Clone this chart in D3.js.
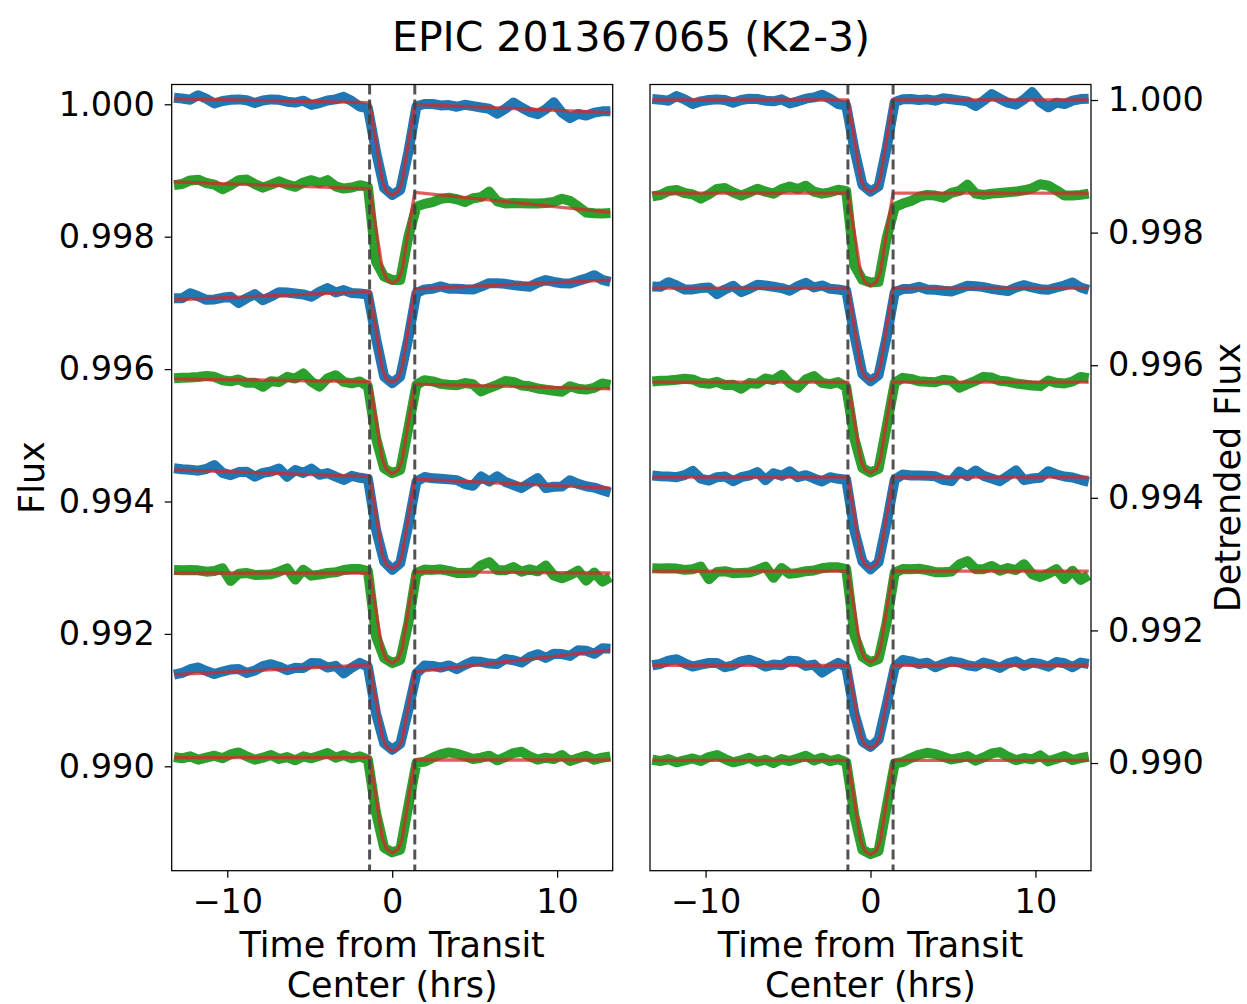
<!DOCTYPE html>
<html><head><meta charset="utf-8">
<script src="https://cdn.jsdelivr.net/npm/d3@7"></script>
<style>
body{margin:0;background:#fff}
svg{display:block}
text{font-family:"DejaVu Sans",sans-serif;fill:#000}
</style>
</head><body><svg id="chart" width="1247" height="1004"></svg>
<script>
// ---- data (flux given in ppm relative to 1.0) ----
const timeHrs = [-13.23,-12.74,-12.25,-11.76,-11.27,-10.78,-10.29,-9.80,-9.31,-8.82,-8.33,-7.84,-7.35,-6.86,-6.37,-5.88,-5.39,-4.90,-4.41,-3.92,-3.43,-2.94,-2.45,-1.96,-1.47,-0.98,-0.49,0.00,0.49,0.98,1.47,1.96,2.45,2.94,3.43,3.92,4.41,4.90,5.39,5.88,6.37,6.86,7.35,7.84,8.33,8.82,9.31,9.80,10.29,10.78,11.27,11.76,12.25,12.74,13.23];

const fluxCurve1 = [99,87,69,137,84,12,49,67,74,62,19,57,74,67,39,27,54,-9,19,57,74,112,49,-34,-60,-720,-1265,-1370,-1295,-720,-30,4,4,-17,-12,-37,-7,-27,-48,-68,-143,-68,26,-49,-114,-149,-75,30,-125,-210,-145,-171,-126,-106,-106];
const fluxCurve2 = [-1221,-1205,-1150,-1139,-1189,-1213,-1282,-1222,-1146,-1136,-1205,-1259,-1214,-1163,-1213,-1247,-1181,-1146,-1190,-1145,-1239,-1273,-1258,-1222,-1250,-2377,-2603,-2653,-2653,-2000,-1546,-1504,-1477,-1429,-1412,-1434,-1477,-1419,-1402,-1319,-1467,-1499,-1492,-1494,-1497,-1499,-1492,-1474,-1427,-1459,-1542,-1634,-1647,-1649,-1642];
const fluxCurve3 = [-2929,-2929,-2854,-2899,-2954,-2948,-2923,-2908,-3003,-2928,-2868,-2958,-2903,-2838,-2843,-2857,-2872,-2907,-2832,-2777,-2842,-2807,-2852,-2857,-2872,-3533,-4113,-4213,-4113,-3533,-2850,-2797,-2787,-2751,-2786,-2785,-2795,-2799,-2754,-2703,-2703,-2712,-2732,-2746,-2756,-2695,-2655,-2684,-2704,-2708,-2668,-2632,-2582,-2651,-2681];
const fluxCurve4 = [-4138,-4130,-4126,-4118,-4105,-4116,-4168,-4185,-4157,-4208,-4205,-4267,-4183,-4195,-4117,-4143,-4065,-4192,-4264,-4140,-4092,-4194,-4215,-4187,-4264,-5043,-5496,-5572,-5522,-4892,-4239,-4167,-4185,-4223,-4236,-4244,-4211,-4229,-4337,-4285,-4238,-4181,-4194,-4247,-4260,-4293,-4310,-4328,-4341,-4259,-4297,-4310,-4283,-4216,-4239];
const fluxCurve5 = [-5498,-5512,-5521,-5535,-5509,-5449,-5568,-5602,-5556,-5550,-5624,-5568,-5547,-5501,-5625,-5525,-5569,-5503,-5597,-5571,-5625,-5674,-5613,-5642,-5661,-6428,-6907,-7032,-6931,-6353,-5699,-5630,-5650,-5656,-5666,-5677,-5737,-5763,-5623,-5699,-5619,-5705,-5750,-5796,-5721,-5647,-5797,-5778,-5773,-5679,-5734,-5770,-5790,-5831,-5866];
const fluxCurve6 = [-7035,-7040,-7035,-7040,-7060,-7050,-7010,-7200,-7090,-7080,-7110,-7105,-7100,-7060,-7010,-7180,-7030,-7120,-7105,-7080,-7070,-7035,-7020,-7020,-7050,-8039,-8365,-8441,-8391,-7837,-7082,-7027,-7033,-7025,-7047,-7079,-7080,-7072,-6964,-6915,-7037,-7039,-6990,-7062,-7024,-7055,-6967,-7119,-7161,-7112,-7044,-7196,-7072,-7209,-7141];
const fluxCurve7 = [-8616,-8590,-8534,-8507,-8561,-8605,-8569,-8538,-8531,-8590,-8554,-8488,-8457,-8495,-8549,-8513,-8517,-8441,-8445,-8508,-8482,-8596,-8510,-8438,-8497,-9200,-9650,-9750,-9660,-9150,-8600,-8476,-8483,-8509,-8476,-8532,-8468,-8415,-8421,-8448,-8454,-8380,-8397,-8433,-8350,-8306,-8362,-8299,-8305,-8332,-8248,-8254,-8301,-8217,-8224];
const fluxCurve8 = [-9860,-9880,-9850,-9900,-9870,-9840,-9880,-9820,-9790,-9850,-9900,-9870,-9830,-9890,-9860,-9910,-9850,-9880,-9840,-9800,-9870,-9830,-9880,-9850,-9900,-10700,-11230,-11300,-11260,-10600,-9950,-9930,-9870,-9820,-9790,-9810,-9850,-9890,-9870,-9840,-9910,-9860,-9800,-9780,-9850,-9900,-9870,-9890,-9830,-9920,-9880,-9840,-9900,-9870,-9850];

const curveColors = ["#1f77b4","#2ca02c","#1f77b4","#2ca02c","#1f77b4","#2ca02c","#1f77b4","#2ca02c"];

// fitted model (ppm): linear baseline before / after transit, and transit depth
const trendPreStart  = [84,-1171,-2954,-4148,-5523,-7080,-8616,-9870];
const trendPreEnd    = [24,-1278,-2830,-4189,-5623,-7080,-8467,-9870];
const trendPostStart = [0,-1330,-2789,-4228,-5663,-7060,-8573,-9905];
const trendPostEnd   = [-126,-1634,-2655,-4298,-5797,-7080,-8244,-9905];
const transitDepth   = [1385,1400,1390,1370,1370,1370,1250,1420];
const detrendedLevel = [0,-1403,-2837,-4255,-5689,-7107,-8526,-9960];
const transitShapeTimes = [-1.0,-0.6,-0.35,0,0.35,0.6,1.0];
const transitShapeFrac  = [0.40,0.85,0.96,1,0.96,0.85,0.40];
const contactTimes = [-1.37,1.37];

const xTicks = [-10,0,10];
const yTicks = [0.990,0.992,0.994,0.996,0.998,1.000];
const titleText = "EPIC 201367065 (K2-3)";

// ---- drawing ----
const fluxCurves = [fluxCurve1,fluxCurve2,fluxCurve3,fluxCurve4,fluxCurve5,fluxCurve6,fluxCurve7,fluxCurve8];
const svg = d3.select("#chart");
const plotTop = 84.5, plotBottom = 870.7;
const panels = [
  {x0:171.7, x1:612.7, yDom:[0.988423,1.000299], side:"left", detrended:false, label:"Flux"},
  {x0:650.0, x1:1091.0, yDom:[0.988376,1.000234], side:"right", detrended:true, label:"Detrended Flux"}
];
const tFirst = timeHrs[0], tLast = timeHrs[timeHrs.length-1];

function trendAt(c,t){
  if (t <= contactTimes[0]) return trendPreStart[c] + (trendPreEnd[c]-trendPreStart[c])*(t-tFirst)/(contactTimes[0]-tFirst);
  if (t >= contactTimes[1]) return trendPostStart[c] + (trendPostEnd[c]-trendPostStart[c])*(t-contactTimes[1])/(tLast-contactTimes[1]);
  return trendPreEnd[c] + (trendPostStart[c]-trendPreEnd[c])*(t-contactTimes[0])/(contactTimes[1]-contactTimes[0]);
}
function modelVertices(c){
  const v = [[tFirst,trendPreStart[c]],[contactTimes[0],trendPreEnd[c]]];
  transitShapeTimes.forEach((s,k)=>v.push([s, trendAt(c,s) - transitDepth[c]*transitShapeFrac[k]]));
  v.push([contactTimes[1],trendPostStart[c]],[tLast,trendPostEnd[c]]);
  return v;
}

panels.forEach((p,pi)=>{
  const x = d3.scaleLinear().domain([-13.37,13.37]).range([p.x0,p.x1]);
  const y = d3.scaleLinear().domain(p.yDom).range([plotBottom,plotTop]);
  const g = svg.append("g");
  const clipId = "clip"+pi;
  svg.append("clipPath").attr("id",clipId).append("rect")
    .attr("x",p.x0).attr("y",plotTop).attr("width",p.x1-p.x0).attr("height",plotBottom-plotTop);
  const plot = g.append("g").attr("clip-path",`url(#${clipId})`);
  const line = d3.line().x(d=>x(d[0])).y(d=>y(1+d[1]*1e-6));

  fluxCurves.forEach((fc,c)=>{
    const pts = timeHrs.map((t,i)=>[t, p.detrended ? fc[i]-trendAt(c,t)+detrendedLevel[c] : fc[i]]);
    plot.append("path").attr("d",line(pts)).attr("fill","none")
      .attr("stroke",curveColors[c]).attr("stroke-width",10)
      .attr("stroke-linejoin","round").attr("stroke-linecap","butt");
    let mv = modelVertices(c);
    if (p.detrended) mv = mv.map(([t,v])=>[t, v-trendAt(c,t)+detrendedLevel[c]]);
    plot.append("path").attr("d",line(mv)).attr("fill","none")
      .attr("stroke","#d62728").attr("stroke-opacity",0.75).attr("stroke-width",3.3)
      .attr("stroke-linejoin","round");
  });
  contactTimes.forEach(ct=>{
    plot.append("line").attr("x1",x(ct)).attr("x2",x(ct)).attr("y1",plotTop).attr("y2",plotBottom)
      .attr("stroke","#404040").attr("stroke-opacity",0.9).attr("stroke-width",3)
      .attr("stroke-dasharray","10,5");
  });

  // spines
  g.append("rect").attr("x",p.x0).attr("y",plotTop).attr("width",p.x1-p.x0).attr("height",plotBottom-plotTop)
    .attr("fill","none").attr("stroke","#000").attr("stroke-width",1.25);

  // x axis
  const xa = g.append("g").attr("transform",`translate(0,${plotBottom})`)
    .call(d3.axisBottom(x).tickValues(xTicks).tickFormat(d3.format("d")).tickSize(7).tickPadding(12));
  // y axis
  const ya = p.side==="left"
    ? g.append("g").attr("transform",`translate(${p.x0},0)`).call(d3.axisLeft(y).tickValues(yTicks).tickFormat(d3.format(".3f")).tickSize(7).tickPadding(10))
    : g.append("g").attr("transform",`translate(${p.x1},0)`).call(d3.axisRight(y).tickValues(yTicks).tickFormat(d3.format(".3f")).tickSize(7).tickPadding(10));
  [xa,ya].forEach(a=>{
    a.select(".domain").remove();
    a.attr("font-family",null).attr("font-size",null);
    a.selectAll("line").attr("stroke","#000").attr("stroke-width",1.25);
    a.selectAll("text").style("font-size","33.5px").attr("fill","#000");
  });

  // x label
  const cx = (p.x0+p.x1)/2;
  g.append("text").attr("x",cx).attr("y",956.5).attr("text-anchor","middle").style("font-size","35px").text("Time from Transit");
  g.append("text").attr("x",cx).attr("y",996.5).attr("text-anchor","middle").style("font-size","35px").text("Center (hrs)");
  // y label
  const lx = p.side==="left" ? 44 : 1240;
  g.append("text").attr("transform",`translate(${lx},${(plotTop+plotBottom)/2}) rotate(-90)`)
    .attr("text-anchor","middle").style("font-size","35px").text(p.label);
});

svg.append("text").attr("x",631).attr("y",51).attr("text-anchor","middle").style("font-size","41px").text(titleText);
</script>
</body></html>
